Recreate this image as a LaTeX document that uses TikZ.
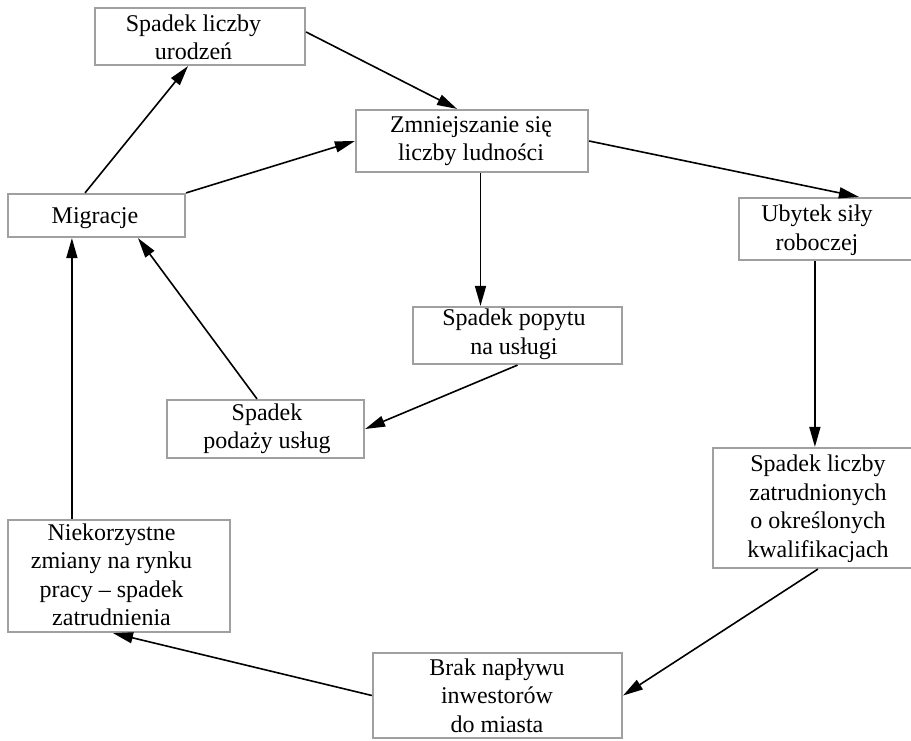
\documentclass[tikz,border=0pt]{standalone}
\usepackage{fontspec}
\setmainfont{Liberation Serif}
\usetikzlibrary{arrows.meta}
\definecolor{bordergray}{RGB}{160,160,160}
\begin{document}
\begin{tikzpicture}[x=1pt,y=1pt,
  box/.style={draw=bordergray, line width=2.2pt, rectangle, inner sep=0pt},
  txt/.style={inner sep=0pt, align=center, font=\fontsize{24pt}{28.5pt}\selectfont,
    execute at begin node=\strut, execute at end node=\strut},
  arr/.style={line width=1.6pt, -{Triangle[length=20pt,width=11pt]}}]
\useasboundingbox (0,0) rectangle (911,-740);
% boxes
\node[box, minimum width=210pt, minimum height=57pt] (b1) at (200,-36.5) {};
\node[box, minimum width=232pt, minimum height=62pt] (b2) at (472,-141) {};
\node[box, minimum width=177pt, minimum height=43pt] (b3) at (96.5,-215.5) {};
\node[box, minimum width=191pt, minimum height=62pt] (b4) at (834.5,-229) {};
\node[box, minimum width=209pt, minimum height=57pt] (b5) at (517.5,-335.5) {};
\node[box, minimum width=197pt, minimum height=58pt] (b6) at (265.5,-429) {};
\node[box, minimum width=217pt, minimum height=120pt] (b7) at (821.5,-508) {};
\node[box, minimum width=222pt, minimum height=112pt] (b8) at (119,-576) {};
\node[box, minimum width=249pt, minimum height=85pt] (b9) at (497.5,-695.5) {};
% texts
\node[txt] (t1) at (193.5,-41.3) {Spadek liczby\\urodzeń};
\node[txt] (t2) at (471,-143) {Zmniejszanie się\\liczby ludności};
\node[txt] (t3) at (95,-217.3) {Migracje};
\node[txt] (t4) at (817,-231.8) {Ubytek siły\\roboczej};
\node[txt] (t5) at (514,-335.8) {Spadek popytu\\na usługi};
\node[txt] (t6) at (267,-430.3) {Spadek\\podaży usług};
\node[txt] (t7) at (818,-510.3) {Spadek liczby\\zatrudnionych\\o określonych\\kwalifikacjach};
\node[txt] (t8) at (111.5,-578.8) {Niekorzystne\\zmiany na rynku\\pracy – spadek\\zatrudnienia};
\node[txt] (t9) at (497,-699.8) {Brak napływu\\inwestorów\\do miasta};
% connectors
\draw[arr] ([xshift=-11.5pt]b3.north) -- ([xshift=-12pt]b1.south);
\draw[arr] ([yshift=4.5pt]b1.east) -- ([xshift=-15pt]b2.north);
\draw[arr] (b3.north east) -- (b2.west);
\draw[arr] (b2.east) -- ([xshift=121pt]b4.north west);
\draw[arr] ([xshift=8.5pt]b2.south) -- ([xshift=8.5pt]b2.south |- b5.north);
\draw[arr] (b5.south) -- (b6.east);
\draw[arr] ([xshift=-8.5pt]b6.north) -- ([xshift=41.5pt]b3.south);
\draw[arr] ([xshift=77pt]b4.south west) -- ([xshift=77pt]b4.south west |- b7.north);
\draw[arr] ([xshift=106pt]b7.south west) -- (b9.east);
\draw[arr] (b9.west) -- ([xshift=-6pt]b8.south);
\draw[arr] ([xshift=65pt]b8.north west) -- ([xshift=65pt]b8.north west |- b3.south);
\end{tikzpicture}
\end{document}
